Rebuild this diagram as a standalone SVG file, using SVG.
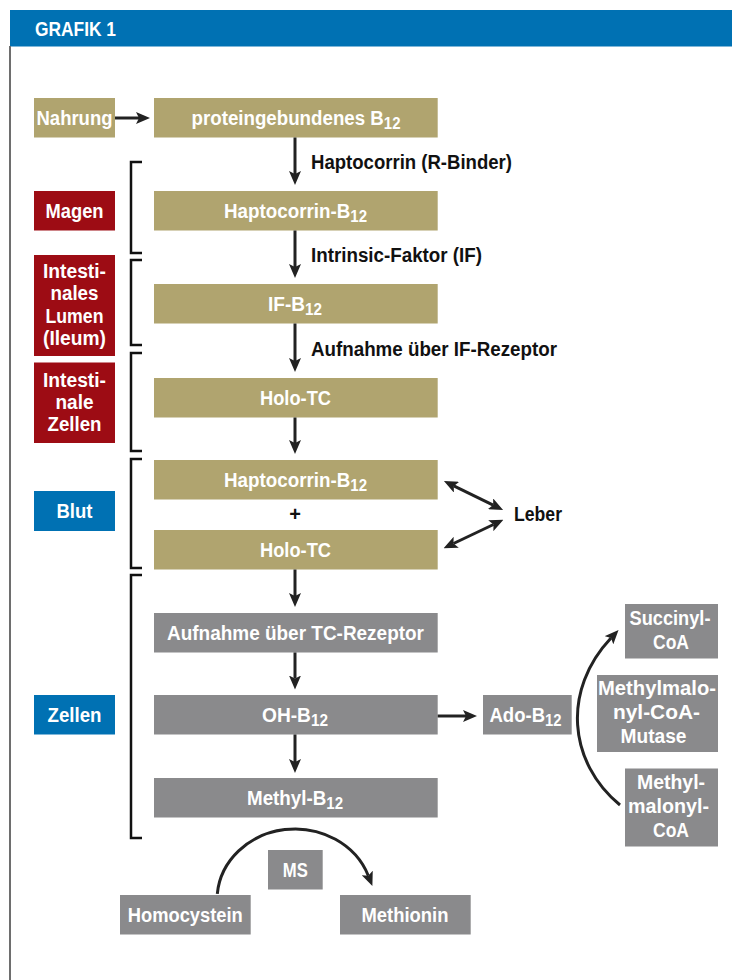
<svg xmlns="http://www.w3.org/2000/svg" width="732" height="980" viewBox="0 0 732 980">
<style>
text{font-family:"Liberation Sans",Arial,"DejaVu Sans",sans-serif;font-weight:bold;font-size:20px;fill:#fff}
.c{text-anchor:middle}
.k{fill:#111}
.sub{font-size:16px}
.tan{fill:#b0a46f}
.red{fill:#9d0c14}
.blue{fill:#0071b3}
.gray{fill:#8a8a8c}
.ar{fill:none;stroke:#222;stroke-width:3}
.br{fill:none;stroke:#111;stroke-width:2.5}
</style>
<defs>
<marker id="ah" viewBox="0 0 14 12" markerWidth="14" markerHeight="12" refX="3" refY="6" orient="auto-start-reverse" markerUnits="userSpaceOnUse">
<path d="M0,0 L14,6 L0,12 L3,6 Z" fill="#222"/>
</marker>
</defs>
<rect width="732" height="980" fill="#fff"/>
<rect x="10" y="10" width="722" height="36.5" fill="#0071b3"/>
<line x1="10" y1="46" x2="10" y2="980" stroke="#6e6e6e" stroke-width="2"/>
<text x="35" y="36" font-size="21" textLength="81" lengthAdjust="spacingAndGlyphs">GRAFIK 1</text>

<g id="nahrung"><rect class="tan" x="34" y="98" width="81" height="39.5"/><text class="c" x="74.5" y="124.5" textLength="76" lengthAdjust="spacingAndGlyphs">Nahrung</text></g>
<g id="magen"><rect class="red" x="34" y="191" width="81" height="39.5"/><text class="c" x="74.5" y="217.5" textLength="58" lengthAdjust="spacingAndGlyphs">Magen</text></g>
<g id="lumen"><rect class="red" x="34" y="255" width="81" height="101"/>
<text class="c" x="74.5" y="277.5" textLength="63" lengthAdjust="spacingAndGlyphs">Intesti-</text>
<text class="c" x="74.5" y="300" textLength="48" lengthAdjust="spacingAndGlyphs">nales</text>
<text class="c" x="74.5" y="322.5" textLength="58" lengthAdjust="spacingAndGlyphs">Lumen</text>
<text class="c" x="74.5" y="344.5" textLength="63" lengthAdjust="spacingAndGlyphs">(Ileum)</text></g>
<g id="izellen"><rect class="red" x="34" y="362.5" width="81" height="80.5"/>
<text class="c" x="74.5" y="386.5" textLength="63" lengthAdjust="spacingAndGlyphs">Intesti-</text>
<text class="c" x="74.5" y="408.5" textLength="38" lengthAdjust="spacingAndGlyphs">nale</text>
<text class="c" x="74.5" y="431" textLength="54" lengthAdjust="spacingAndGlyphs">Zellen</text></g>
<g id="blut"><rect class="blue" x="34" y="491" width="81" height="40"/><text class="c" x="74.5" y="518" textLength="36" lengthAdjust="spacingAndGlyphs">Blut</text></g>
<g id="zellen"><rect class="blue" x="34" y="695" width="81" height="39.5"/><text class="c" x="74.5" y="721.5" textLength="54" lengthAdjust="spacingAndGlyphs">Zellen</text></g>

<g id="protein"><rect class="tan" x="154" y="98" width="283.7" height="39.5"/><text class="c" x="296" y="124.5" textLength="209" lengthAdjust="spacingAndGlyphs">proteingebundenes B<tspan class="sub" dy="4">12</tspan></text></g>
<g id="hapto1"><rect class="tan" x="154" y="191" width="283.7" height="39.5"/><text class="c" x="295.5" y="217.5" textLength="143" lengthAdjust="spacingAndGlyphs">Haptocorrin-B<tspan class="sub" dy="4">12</tspan></text></g>
<g id="ifb12"><rect class="tan" x="154" y="284" width="283.7" height="39.5"/><text class="c" x="295" y="310.5" textLength="54" lengthAdjust="spacingAndGlyphs">IF-B<tspan class="sub" dy="4">12</tspan></text></g>
<g id="holotc1"><rect class="tan" x="154" y="378" width="283.7" height="39.5"/><text class="c" x="295.5" y="404.5" textLength="71" lengthAdjust="spacingAndGlyphs">Holo-TC</text></g>
<g id="hapto2"><rect class="tan" x="154" y="460" width="283.7" height="39.5"/><text class="c" x="295.5" y="486.5" textLength="143" lengthAdjust="spacingAndGlyphs">Haptocorrin-B<tspan class="sub" dy="4">12</tspan></text></g>
<text id="plus" class="c k" x="295" y="521">+</text>
<g id="holotc2"><rect class="tan" x="154" y="530" width="283.7" height="39.5"/><text class="c" x="295.5" y="556.5" textLength="71" lengthAdjust="spacingAndGlyphs">Holo-TC</text></g>
<g id="tcrez"><rect class="gray" x="154" y="613" width="283.7" height="39.5"/><text class="c" x="295.5" y="639.5" textLength="257" lengthAdjust="spacingAndGlyphs">Aufnahme über TC-Rezeptor</text></g>
<g id="ohb12"><rect class="gray" x="154" y="695" width="283.7" height="39.5"/><text class="c" x="295" y="721.5" textLength="66" lengthAdjust="spacingAndGlyphs">OH-B<tspan class="sub" dy="4">12</tspan></text></g>
<g id="methylb12"><rect class="gray" x="154" y="778" width="283.7" height="39.5"/><text class="c" x="295" y="804.5" textLength="96" lengthAdjust="spacingAndGlyphs">Methyl-B<tspan class="sub" dy="4">12</tspan></text></g>
<g id="adob12"><rect class="gray" x="483" y="695" width="88.7" height="39.5"/><text class="c" x="525.5" y="721.5" textLength="72" lengthAdjust="spacingAndGlyphs">Ado-B<tspan class="sub" dy="4">12</tspan></text></g>
<g id="succinyl"><rect class="gray" x="625" y="604" width="93" height="54.5"/>
<text class="c" x="670" y="624.5" textLength="81" lengthAdjust="spacingAndGlyphs">Succinyl-</text>
<text class="c" x="671" y="649" textLength="36" lengthAdjust="spacingAndGlyphs">CoA</text></g>
<g id="mutase"><rect class="gray" x="597" y="675" width="121" height="77"/>
<text class="c" x="657" y="694.5" textLength="118" lengthAdjust="spacingAndGlyphs">Methylmalo-</text>
<text class="c" x="656.5" y="718.5" textLength="87" lengthAdjust="spacingAndGlyphs">nyl-CoA-</text>
<text class="c" x="653.5" y="742.5" textLength="66" lengthAdjust="spacingAndGlyphs">Mutase</text></g>
<g id="mmcoa"><rect class="gray" x="625" y="768.5" width="93" height="78"/>
<text class="c" x="671" y="788.5" textLength="68" lengthAdjust="spacingAndGlyphs">Methyl-</text>
<text class="c" x="668.5" y="812.5" textLength="81" lengthAdjust="spacingAndGlyphs">malonyl-</text>
<text class="c" x="671" y="836.5" textLength="36" lengthAdjust="spacingAndGlyphs">CoA</text></g>
<g id="ms"><rect class="gray" x="268" y="850" width="54.7" height="39.5"/><text class="c" x="295.3" y="876.5" textLength="25" lengthAdjust="spacingAndGlyphs">MS</text></g>
<g id="homocystein"><rect class="gray" x="120" y="895" width="130.7" height="39.5"/><text class="c" x="185.3" y="921.5" textLength="115" lengthAdjust="spacingAndGlyphs">Homocystein</text></g>
<g id="methionin"><rect class="gray" x="340" y="895" width="130.7" height="39.5"/><text class="c" x="405" y="921.5" textLength="87" lengthAdjust="spacingAndGlyphs">Methionin</text></g>
<text id="leber" class="k" x="514" y="521" textLength="48" lengthAdjust="spacingAndGlyphs">Leber</text>

<g id="labels">
<text class="k" x="311" y="169" textLength="201" lengthAdjust="spacingAndGlyphs">Haptocorrin (R-Binder)</text>
<text class="k" x="311" y="262" textLength="171" lengthAdjust="spacingAndGlyphs">Intrinsic-Faktor (IF)</text>
<text class="k" x="311" y="355.5" textLength="246" lengthAdjust="spacingAndGlyphs">Aufnahme über IF-Rezeptor</text>
</g>

<g id="brackets">
<path class="br" d="M142,162 H131 V253 H142"/>
<path class="br" d="M142,260 H131 V345 H142"/>
<path class="br" d="M142,353 H131 V451 H142"/>
<path class="br" d="M142,459 H131 V568 H142"/>
<path class="br" d="M142,575 H131 V838 H142"/>
</g>

<g id="connectors">
<line class="ar" x1="115" y1="118" x2="139" y2="118" marker-end="url(#ah)"/>
<line class="ar" x1="295" y1="137.5" x2="295" y2="174" marker-end="url(#ah)"/>
<line class="ar" x1="295" y1="230.5" x2="295" y2="267" marker-end="url(#ah)"/>
<line class="ar" x1="295" y1="323.5" x2="295" y2="361" marker-end="url(#ah)"/>
<line class="ar" x1="295" y1="417.5" x2="295" y2="443" marker-end="url(#ah)"/>
<line class="ar" x1="295" y1="569.5" x2="295" y2="596" marker-end="url(#ah)"/>
<line class="ar" x1="295" y1="652.5" x2="295" y2="678.5" marker-end="url(#ah)"/>
<line class="ar" x1="295" y1="734.5" x2="295" y2="762" marker-end="url(#ah)"/>
<line class="ar" x1="437.7" y1="716" x2="466" y2="716" marker-end="url(#ah)"/>
<line class="ar" x1="453.8" y1="485.9" x2="493.2" y2="505.1" marker-start="url(#ah)" marker-end="url(#ah)"/>
<line class="ar" x1="453.5" y1="543.5" x2="493.5" y2="524.5" marker-start="url(#ah)" marker-end="url(#ah)"/>
<path class="ar" d="M620,805 C568,762 562,690 611,638" marker-end="url(#ah)"/>
<path class="ar" d="M217.3,893.8 A78,71 0 0 1 368.3,875.7" marker-end="url(#ah)"/>
</g>
</svg>
